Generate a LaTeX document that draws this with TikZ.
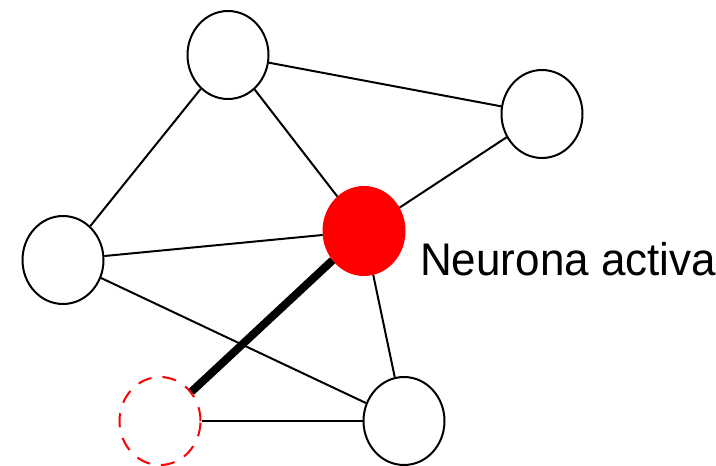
\documentclass[tikz,border=0pt]{standalone}
\usepackage{fontspec}
\setmainfont{Liberation Sans}
\usetikzlibrary{shapes.geometric}
\definecolor{fire}{RGB}{255,0,0}

\begin{document}
\begin{tikzpicture}[x=1pt, y=-1pt,
  neuron/.style={draw=black, ellipse, line width=2pt, inner sep=0pt, minimum width=81pt, minimum height=88pt},
  active/.style={neuron, draw=fire, fill=fire},
  ghost/.style={neuron, draw=fire, dash pattern=on 14pt off 11pt},
  link/.style={line width=2pt},
  strong/.style={line width=8pt}]
\useasboundingbox (0,0) rectangle (716,466);
% neurons
\node[neuron] (top) at (228,55) {};
\node[neuron] (far) at (542,114) {};
\node[neuron] (left) at (63,260) {};
\node[active] (act) at (364,231) {};
\node[neuron] (low) at (404,421) {};
\node[ghost] (gone) at (160,421) {};
% synapses
\foreach \a/\b in {top/far, top/left, top/act, far/act, left/act, left/low, act/low, gone/low}
  { \draw[link] (\a) -- (\b); }
\draw[strong] (act) -- (gone);
\node[font=\fontsize{44}{48}\selectfont, anchor=base west, inner sep=0pt, yscale=1.04] (lbl) at (420,275) {Neurona activa};
\end{tikzpicture}
\end{document}
